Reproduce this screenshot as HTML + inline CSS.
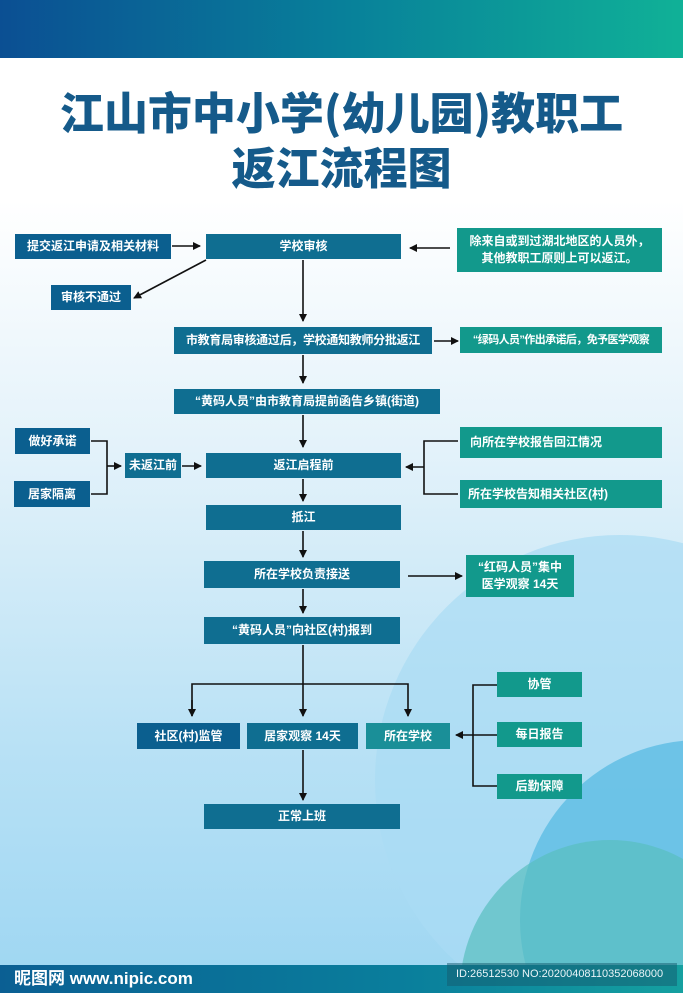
<!DOCTYPE html>
<html><head><meta charset="utf-8"><style>
*{margin:0;padding:0;box-sizing:border-box}
html{width:683px;height:993px;overflow:hidden}
body{width:683px;height:993px;overflow:hidden;position:relative;font-family:"Liberation Sans","Noto Sans CJK SC",sans-serif;background:linear-gradient(#ffffff 0px,#ffffff 200px,#e3f2fa 450px,#b8e1f5 750px,#9dd6f2 993px)}
.b{position:absolute;color:#fff;font-weight:bold;font-size:12px;display:flex;align-items:center;justify-content:center;text-align:center;line-height:17px;background:#0f6e91;white-space:nowrap}
.d{background:#0b5f8f}
.t{background:#12998c}
.g{background:#1a8f98}
.title{position:absolute;left:0;width:683px;text-align:center;color:#155a8a;font-weight:900;font-size:44px;font-family:"Noto Sans CJK SC",sans-serif;line-height:56px}
</style></head><body>
<div style="position:absolute;left:0;top:0;width:683px;height:58px;background:linear-gradient(90deg,#0b4f93,#08809a 50%,#10b197)"></div>
<svg style="position:absolute;left:0;top:0" width="683" height="993">
<circle cx="620" cy="780" r="245" fill="#a9dcf3" opacity="0.7"/>
<circle cx="700" cy="920" r="180" fill="#5cbde3" opacity="0.8"/>
<circle cx="610" cy="990" r="150" fill="#58bfbf" opacity="0.7"/>
</svg>
<div class="title" style="top:82px">江山市中小学(幼儿园)教职工</div>
<div class="title" style="top:137px">返江流程图</div>

<svg style="position:absolute;left:0;top:0" width="683" height="993" fill="none" stroke="#111" stroke-width="1.6">
<defs><marker id="a" markerWidth="8" markerHeight="8" refX="7" refY="4" orient="auto" markerUnits="userSpaceOnUse"><path d="M0,0 L8,4 L0,8z" fill="#111" stroke="none"/></marker></defs>
<line x1="172" y1="246" x2="200" y2="246" marker-end="url(#a)"/>
<line x1="450" y1="248" x2="410" y2="248" marker-end="url(#a)"/>
<line x1="206" y1="260" x2="134" y2="298" marker-end="url(#a)"/>
<line x1="303" y1="260" x2="303" y2="321" marker-end="url(#a)"/>
<line x1="434" y1="341" x2="458" y2="341" marker-end="url(#a)"/>
<line x1="303" y1="355" x2="303" y2="383" marker-end="url(#a)"/>
<line x1="303" y1="415" x2="303" y2="447" marker-end="url(#a)"/>
<path d="M91 441 H107 V494 H91"/>
<line x1="107" y1="466" x2="121" y2="466" marker-end="url(#a)"/>
<line x1="182" y1="466" x2="201" y2="466" marker-end="url(#a)"/>
<path d="M458 441 H424 V494 H458"/>
<line x1="424" y1="467" x2="406" y2="467" marker-end="url(#a)"/>
<line x1="303" y1="479" x2="303" y2="501" marker-end="url(#a)"/>
<line x1="303" y1="531" x2="303" y2="557" marker-end="url(#a)"/>
<line x1="408" y1="576" x2="462" y2="576" marker-end="url(#a)"/>
<line x1="303" y1="589" x2="303" y2="613" marker-end="url(#a)"/>
<line x1="303" y1="645" x2="303" y2="716" marker-end="url(#a)"/>
<path d="M192 716 V684 H408 V716" marker-end="url(#a)"/>
<line x1="192" y1="700" x2="192" y2="716" marker-end="url(#a)"/>
<path d="M497 685 H473 V786 H497"/>
<line x1="497" y1="735" x2="456" y2="735" marker-end="url(#a)"/>
<line x1="303" y1="750" x2="303" y2="800" marker-end="url(#a)"/>
</svg>

<div class="b d" style="left:15px;top:234px;width:156px;height:25px">提交返江申请及相关材料</div>
<div class="b" style="left:206px;top:234px;width:195px;height:25px">学校审核</div>
<div class="b t" style="left:457px;top:228px;width:205px;height:44px">除来自或到过湖北地区的人员外，<br>其他教职工原则上可以返江。</div>
<div class="b d" style="left:51px;top:285px;width:80px;height:25px">审核不通过</div>
<div class="b" style="left:174px;top:327px;width:258px;height:27px;letter-spacing:-0.3px">市教育局审核通过后，学校通知教师分批返江</div>
<div class="b t" style="left:460px;top:327px;width:202px;height:26px;font-size:11px;letter-spacing:-0.6px">“绿码人员”作出承诺后，免予医学观察</div>
<div class="b" style="left:174px;top:389px;width:266px;height:25px">“黄码人员”由市教育局提前函告乡镇(街道)</div>
<div class="b d" style="left:15px;top:428px;width:75px;height:26px">做好承诺</div>
<div class="b d" style="left:14px;top:481px;width:76px;height:26px">居家隔离</div>
<div class="b" style="left:125px;top:453px;width:56px;height:25px">未返江前</div>
<div class="b" style="left:206px;top:453px;width:195px;height:25px">返江启程前</div>
<div class="b t" style="left:460px;top:427px;width:202px;height:31px;justify-content:flex-start;padding-left:10px">向所在学校报告回江情况</div>
<div class="b t" style="left:460px;top:480px;width:202px;height:28px;justify-content:flex-start;padding-left:8px">所在学校告知相关社区(村)</div>
<div class="b" style="left:206px;top:505px;width:195px;height:25px">抵江</div>
<div class="b" style="left:204px;top:561px;width:196px;height:27px">所在学校负责接送</div>
<div class="b t" style="left:466px;top:555px;width:108px;height:42px">“红码人员”集中<br>医学观察 14天</div>
<div class="b" style="left:204px;top:617px;width:196px;height:27px">“黄码人员”向社区(村)报到</div>
<div class="b d" style="left:137px;top:723px;width:103px;height:26px">社区(村)监管</div>
<div class="b" style="left:247px;top:723px;width:111px;height:26px">居家观察 14天</div>
<div class="b g" style="left:366px;top:723px;width:84px;height:26px">所在学校</div>
<div class="b t" style="left:497px;top:672px;width:85px;height:25px">协管</div>
<div class="b t" style="left:497px;top:722px;width:85px;height:25px">每日报告</div>
<div class="b t" style="left:497px;top:774px;width:85px;height:25px">后勤保障</div>
<div class="b" style="left:204px;top:804px;width:196px;height:25px">正常上班</div>

<div style="position:absolute;left:0;top:965px;width:683px;height:28px;background:linear-gradient(90deg,#0b5f93,#0a7f9c 60%,#15a0a0)"></div>
<div style="position:absolute;left:14px;top:968px;color:#fff;font-weight:bold;font-size:17px;line-height:22px">昵图网 www.nipic.com</div>
<div style="position:absolute;left:447px;top:963px;width:230px;height:23px;background:rgba(20,90,110,0.5);color:#e8f4f8;font-size:11px;line-height:23px;padding-left:9px">ID:26512530 NO:20200408110352068000</div>
</body></html>
